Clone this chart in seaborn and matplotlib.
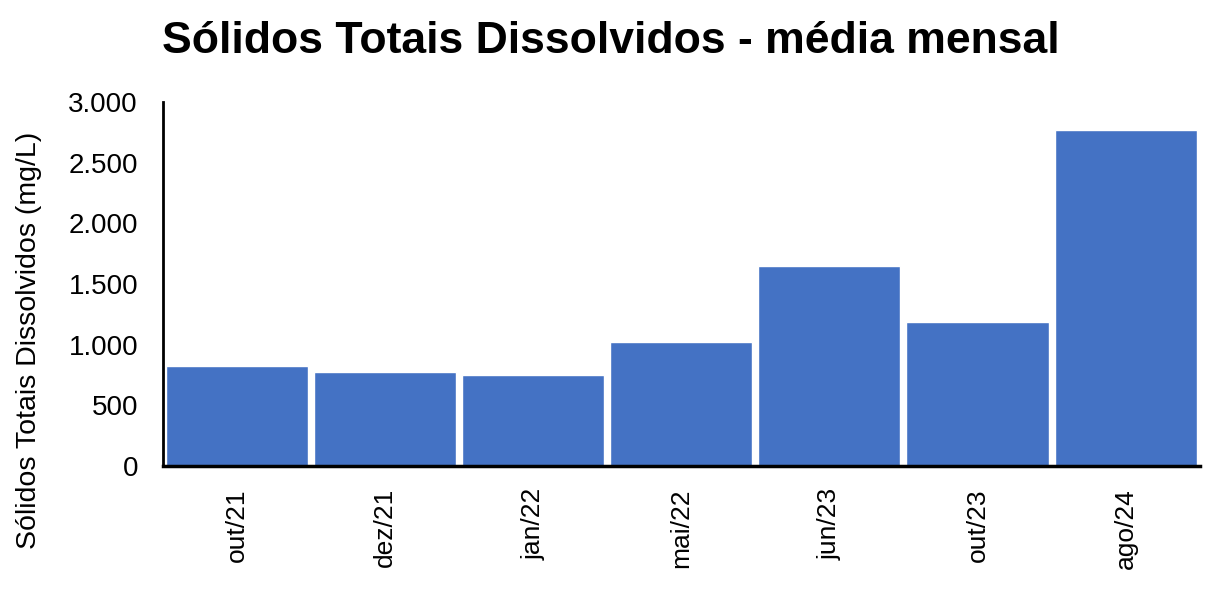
import matplotlib.pyplot as plt
import seaborn as sns
import pandas as pd
from matplotlib.ticker import FuncFormatter

# Monthly mean values
meses = ['out/21', 'dez/21', 'jan/22', 'mai/22', 'jun/23', 'out/23', 'ago/24']
std_mg_l = [824, 775, 750, 1025, 1649, 1187, 2770]

data = pd.DataFrame({'Mes': meses, 'STD': std_mg_l})

sns.set_style("white")
plt.rcParams['font.family'] = ['Liberation Sans', 'DejaVu Sans']
plt.rcParams['text.color'] = 'black'
plt.rcParams['axes.labelcolor'] = 'black'
plt.rcParams['xtick.color'] = 'black'
plt.rcParams['ytick.color'] = 'black'

fig = plt.figure(figsize=(12.21, 6.01), dpi=100)
ax = fig.add_axes([0.1335, 0.2246, 0.849, 0.6055])

sns.barplot(x='Mes', y='STD', data=data, color='#4472C4', width=0.96,
            saturation=1, ax=ax)

ax.set_ylim(0, 3000)
ax.set_xlim(-0.5, len(meses) - 0.5)
ax.set_yticks(range(0, 3001, 500))
ax.yaxis.set_major_formatter(FuncFormatter(lambda v, p: f'{int(v):,}'.replace(',', '.')))

ax.set_xlabel('')
ax.set_ylabel('Sólidos Totais Dissolvidos (mg/L)', fontsize=20.5)
ax.yaxis.set_label_coords(-0.117, 0.345)
ax.tick_params(axis='y', length=0, labelsize=20, pad=18)
ax.tick_params(axis='x', length=0, labelsize=19, pad=16, labelrotation=90)

for side in ['top', 'right']:
    ax.spines[side].set_visible(False)
ax.spines['left'].set_color('black')
ax.spines['left'].set_linewidth(2)
ax.spines['bottom'].set_color('black')
ax.spines['bottom'].set_linewidth(2.5)

fig.suptitle('Sólidos Totais Dissolvidos - média mensal', fontsize=32,
             fontweight='bold', x=0.5, y=0.965)

plt.savefig('out.png', dpi=100)
